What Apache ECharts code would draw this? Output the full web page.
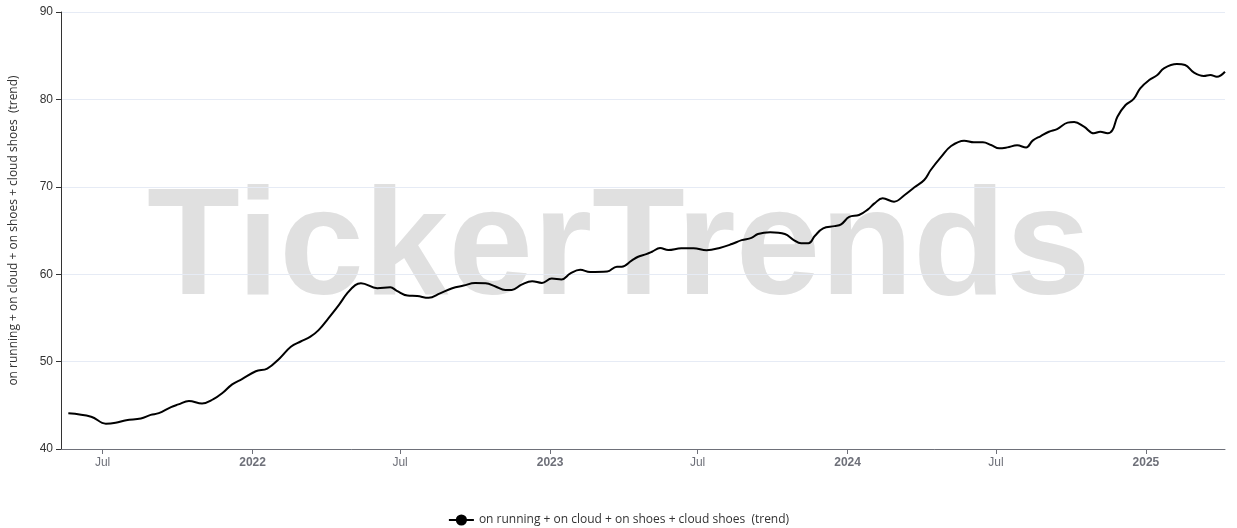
<!DOCTYPE html>
<html>
<head>
<meta charset="utf-8">
<script src="https://cdn.jsdelivr.net/npm/echarts@6/dist/echarts.min.js"></script>
<style>html,body{margin:0;padding:0;background:#fff;}#c{width:1237px;height:528px;}</style>
</head>
<body>
<div id="c"></div>
<script>
const seriesName = 'on running + on cloud + on shoes + cloud shoes  (trend)';
const dates = [
'2021-05-20','2021-06-17','2021-07-05','2021-07-17','2021-07-30','2021-08-17','2021-08-29','2021-09-08','2021-09-23','2021-10-02',
'2021-10-15','2021-10-31','2021-11-14','2021-11-25','2021-12-07','2021-12-19','2022-01-05','2022-01-19','2022-02-04','2022-02-17',
'2022-03-01','2022-03-13','2022-03-23','2022-04-04','2022-04-17','2022-04-27','2022-05-07','2022-05-14','2022-06-03','2022-06-19',
'2022-06-27','2022-07-10','2022-07-22','2022-08-05','2022-08-19','2022-09-03','2022-09-17','2022-10-01','2022-10-14','2022-10-26',
'2022-11-07','2022-11-15','2022-11-27','2022-12-10','2022-12-22','2023-01-03','2023-01-15','2023-01-26','2023-02-07','2023-02-19',
'2023-03-12','2023-03-24','2023-03-30','2023-04-11','2023-04-19','2023-04-29','2023-05-06','2023-05-16','2023-05-26','2023-06-11',
'2023-06-26','2023-07-12','2023-07-28','2023-08-12','2023-08-24','2023-09-05','2023-09-13','2023-09-28','2023-10-16','2023-10-27',
'2023-11-05','2023-11-14','2023-11-22','2023-12-02','2023-12-16','2023-12-24','2024-01-03','2024-01-15','2024-01-26','2024-02-03',
'2024-02-13','2024-02-27','2024-03-11','2024-03-23','2024-04-04','2024-04-12','2024-04-25','2024-05-07','2024-05-23','2024-06-04',
'2024-06-15','2024-06-25','2024-07-05','2024-07-15','2024-07-27','2024-08-07','2024-08-15','2024-08-25','2024-09-04','2024-09-14',
'2024-09-27','2024-10-05','2024-10-17','2024-10-29','2024-11-06','2024-11-15','2024-11-21','2024-11-27','2024-12-07','2024-12-17',
'2024-12-25','2025-01-05','2025-01-15','2025-01-23','2025-02-08','2025-02-18','2025-03-01','2025-03-13','2025-03-21','2025-03-29',
'2025-04-08'
];
const values = [
44.1,43.7,42.9,43.0,43.3,43.5,43.9,44.1,44.8,45.1,
45.5,45.2,45.7,46.4,47.4,48.0,48.9,49.2,50.45,51.7,
52.3,52.85,53.6,54.95,56.5,57.8,58.75,58.96,58.4,58.5,
58.1,57.55,57.5,57.3,57.8,58.4,58.7,59.0,58.96,58.6,
58.2,58.2,58.8,59.2,59.0,59.5,59.4,60.1,60.5,60.25,
60.3,60.86,60.86,61.55,62.0,62.3,62.57,63.0,62.77,62.96,
62.96,62.75,63.0,63.45,63.9,64.15,64.6,64.8,64.6,63.9,
63.54,63.54,64.4,65.25,65.5,65.7,66.55,66.77,67.42,68.1,
68.68,68.3,69.06,69.94,70.78,71.92,73.45,74.67,75.28,75.09,
75.09,74.78,74.4,74.51,74.74,74.51,75.28,75.81,76.3,76.61,
77.34,77.41,76.88,76.12,76.3,76.12,76.5,78.02,79.36,80.05,
81.27,82.22,82.79,83.56,84.05,83.94,83.06,82.68,82.79,82.6,
83.17
];
const xMin = '2021-05-11';
const xMax = '2025-04-08';
const yMin = 40, yMax = 90, yInterval = 10;
const watermark = 'TickerTrends';

const chart = echarts.init(document.getElementById('c'), null, {renderer: 'canvas'});
chart.setOption({
  animation: false,
  backgroundColor: '#ffffff',
  grid: {left: 58, right: 12, top: 12, bottom: 79, containLabel: false},
  graphic: [{
    type: 'text', left: 147, top: 176, z: 0, silent: true,
    style: {text: watermark, font: 'bold 152px "Liberation Sans", Arial, sans-serif', fill: '#e0e0e0'}
  }],
  legend: {
    top: 509, left: 'center',
    itemWidth: 25, itemHeight: 14,
    textStyle: {color: '#333', fontSize: 12, fontFamily: '"Open Sans", sans-serif'},
    data: [seriesName]
  },
  xAxis: {
    type: 'time', min: xMin, max: xMax,
    axisLine: {show: true, lineStyle: {color: '#6E7079'}},
    axisTick: {show: true},
    splitLine: {show: false},
    axisLabel: {color: '#6E7079', fontSize: 12}
  },
  yAxis: {
    type: 'value', min: yMin, max: yMax, interval: yInterval,
    name: seriesName, nameLocation: 'middle', nameGap: 41,
    nameTextStyle: {color: '#333', fontSize: 12, fontFamily: '"Open Sans", sans-serif'},
    axisLine: {show: true, lineStyle: {color: '#333'}},
    axisTick: {show: true, lineStyle: {color: '#333'}},
    axisLabel: {color: '#333', fontSize: 12},
    splitLine: {show: true, lineStyle: {color: '#E6EBF5'}}
  },
  series: [{
    name: seriesName, type: 'line', z: 5,
    data: dates.map((d, i) => [d, values[i]]),
    smooth: 0.4, showSymbol: false, symbol: 'circle', symbolSize: 8,
    lineStyle: {color: '#000', width: 2},
    itemStyle: {color: '#000'}
  }]
});
</script>
</body>
</html>
